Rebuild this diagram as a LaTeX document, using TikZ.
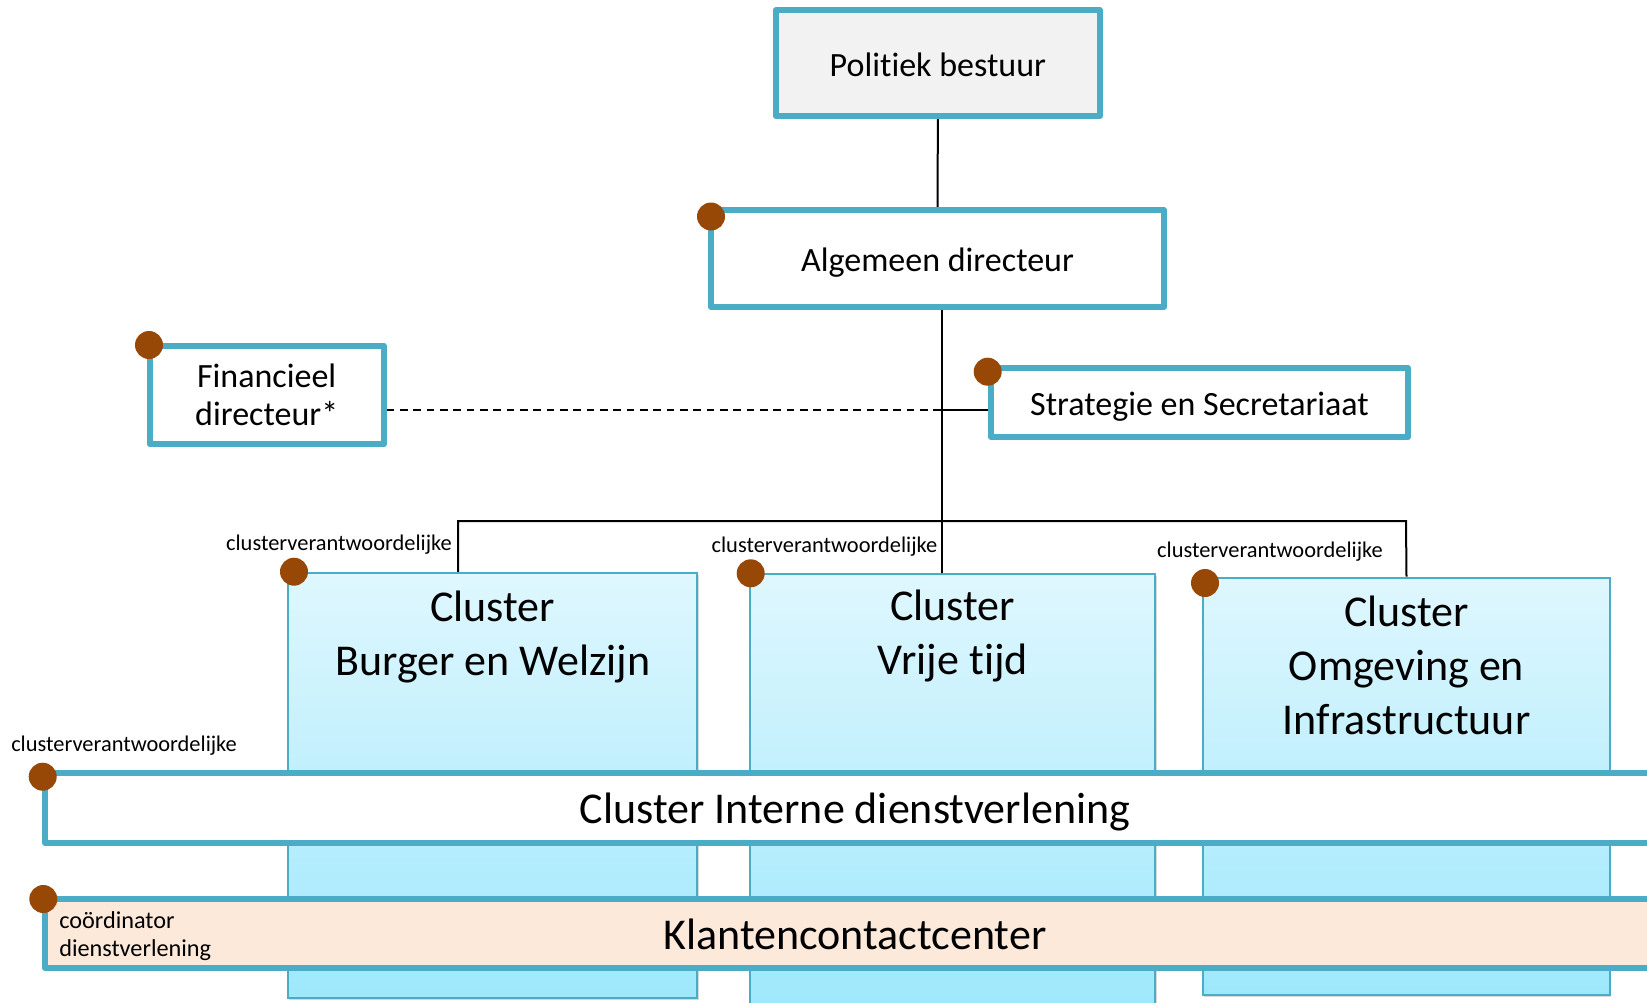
\documentclass[tikz,border=0pt]{standalone}
\usepackage{fontspec}
\setmainfont{Carlito}[Ligatures={NoCommon}]
\usetikzlibrary{shadows}
\pgfdeclarelayer{background}
\pgfsetlayers{background,main}

\definecolor{frame}{RGB}{75,172,198}
\definecolor{knob}{RGB}{151,72,7}
\definecolor{paper}{RGB}{242,242,242}
\definecolor{peach}{RGB}{252,233,218}
\definecolor{icetop}{RGB}{223,247,254}
\definecolor{icebot}{RGB}{158,232,252}

\tikzset{
  headbox/.style={draw=frame, line width=4.5pt, fill=white, line join=round,
    inner sep=0pt, align=center, font=\fontsize{25.5}{28.9}\selectfont},
  oneline/.style={text height=24.2pt, text depth=4.8pt},
  clusterbox/.style={draw=frame, line width=1.5pt, top color=icetop,
    bottom color=icebot, inner sep=0pt,
    drop shadow={shadow xshift=1pt, shadow yshift=-1.5pt, opacity=0.3}},
  band/.style={draw=frame, line width=4.5pt, line join=round, inner sep=0pt,
    text height=30.4pt, text depth=6.6pt, font=\fontsize{33}{40}\selectfont},
  ctitle/.style={align=center, inner sep=0pt, font=\fontsize{33}{40.5}\selectfont},
  role/.style={inner sep=0pt, font=\fontsize{16.8}{20}\selectfont},
  knobdot/.style={circle, fill=knob, minimum size=21pt, inner sep=0pt},
  link/.style={line width=1.5pt},
  dlink/.style={line width=1.1pt, dash pattern=on 5.6pt off 4.4pt},
}

\begin{document}
\begin{tikzpicture}[x=0.75pt, y=-0.75pt]
\useasboundingbox (0,0) rectangle (1647,1003);
\clip (0,0) rectangle (1647,1003);

% the three clusters
\node[clusterbox, minimum width=307.1pt, minimum height=318.4pt] (c1) at (492.75,785.75) {};
\node[clusterbox, minimum width=304.1pt, minimum height=326.8pt] (c2) at (952.75,792.2) {};
\node[clusterbox, minimum width=305.3pt, minimum height=313.1pt] (c3) at (1406.5,786.25) {};
\node[ctitle] (c1t) at (492.75,637) {Cluster\\Burger en Welzijn};
\node[ctitle] (c2t) at (952.75,636) {Cluster\\Vrije tijd};
\node[ctitle] (c3t) at (1406.5,665) {Cluster\\Omgeving en\\Infrastructuur};

% management boxes
\node[headbox, oneline, fill=paper, minimum width=243.2pt, minimum height=79.3pt] (pol) at (937.9,63.2) {Politiek bestuur};
\node[headbox, oneline, minimum width=339.8pt, minimum height=72.8pt] (alg) at (937.5,258.5) {Algemeen directeur};
\node[headbox, minimum width=175.5pt, minimum height=74pt] (fin) at (266.7,395) {Financieel\\directeur*};
\node[headbox, oneline, minimum width=312.8pt, minimum height=51.8pt] (str) at (1199.5,402.5) {Strategie en Secretariaat};

% connectors
\coordinate (jn) at (942,410);
\coordinate (b1) at (458,521);
\coordinate (b2) at (942,521);
\coordinate (b3) at (1406,521);
\begin{pgfonlayer}{background}
  \draw[link] (pol.south) -- (alg.north);
  \draw[link] (alg.south -| b2) -- (c2.north -| b2);
  \draw[link] (c1.north -| b1) -- (b1) -- (b3) -- (c3.north);
  \draw[dlink] (fin.east |- jn) -- (jn);
  \draw[link] (jn) -- (str.west |- jn);
\end{pgfonlayer}

% horizontal bands across the clusters
\node[band, fill=white, minimum width=1215pt, minimum height=52.2pt] (ids) at (855,807.8) {Cluster Interne dienstverlening};
\node[band, fill=peach, minimum width=1215pt, minimum height=52.1pt] (kcc) at (855,933.25) {Klantencontactcenter};

% role labels
\node[role, anchor=east] (r1) at (452,545) {clusterverantwoordelijke};
\node[role, anchor=east] (r2) at (937.5,547) {clusterverantwoordelijke};
\node[role, anchor=east] (r3) at (1383,552) {clusterverantwoordelijke};
\node[role, anchor=west] (r0) at (11,746) {clusterverantwoordelijke};
\node[role, anchor=west, align=left, font=\fontsize{18.2}{21.4}\selectfont] (rk) at (59,936) {coördinator\\dienstverlening};

% responsibility markers
\node[knobdot] (k1) at (711,216.5) {};
\node[knobdot] (k2) at (149,345) {};
\node[knobdot] (k3) at (987.7,371.7) {};
\node[knobdot] (k4) at (294,571.7) {};
\node[knobdot] (k5) at (750.7,573.3) {};
\node[knobdot] (k6) at (1205,583) {};
\node[knobdot] (k7) at (42.7,776.7) {};
\node[knobdot] (k8) at (43.3,899) {};
\end{tikzpicture}
\end{document}
